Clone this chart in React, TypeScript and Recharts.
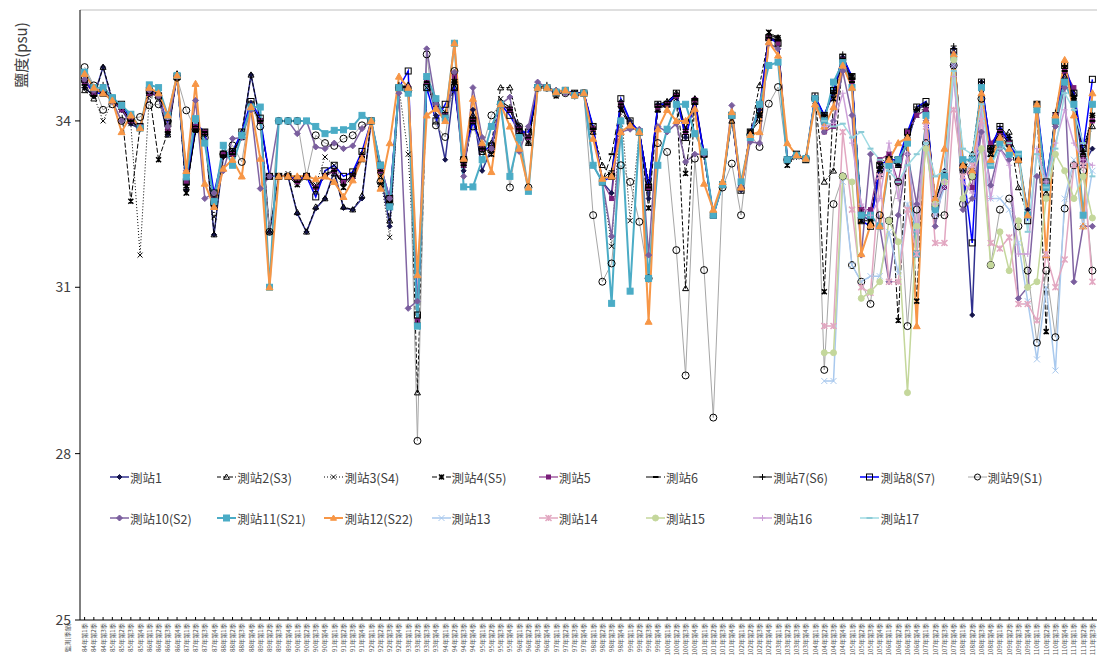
import React from 'react';
import { LineChart, Line, XAxis, YAxis, ReferenceLine, Legend } from 'recharts';

const quarterLabels = [
  '84年第1季', '84年第2季', '84年第3季',
  '85年第1季', '85年第2季', '85年第3季', '85年第4季',
  '86年第1季', '86年第2季', '86年第3季', '86年第4季',
  '87年第1季', '87年第2季', '87年第3季', '87年第4季',
  '88年第1季', '88年第2季', '88年第3季', '88年第4季',
  '89年第1季', '89年第2季', '89年第3季', '89年第4季',
  '90年第1季', '90年第2季', '90年第3季', '90年第4季',
  '91年第1季', '91年第2季', '91年第3季', '91年第4季',
  '92年第1季', '92年第2季', '92年第3季', '92年第4季',
  '93年第1季', '93年第2季', '93年第3季', '93年第4季',
  '94年第1季', '94年第2季', '94年第3季', '94年第4季',
  '95年第1季', '95年第2季', '95年第3季', '95年第4季',
  '96年第1季', '96年第2季', '96年第3季', '96年第4季',
  '97年第1季', '97年第2季', '97年第3季', '97年第4季',
  '98年第1季', '98年第2季', '98年第3季', '98年第4季',
  '99年第1季', '99年第2季', '99年第3季', '99年第4季',
  '100年第1季', '100年第2季', '100年第3季', '100年第4季',
  '101年第1季', '101年第2季', '101年第3季', '101年第4季',
  '102年第1季', '102年第2季', '102年第3季', '102年第4季',
  '103年第1季', '103年第2季', '103年第3季', '103年第4季',
  '104年第1季', '104年第2季', '104年第3季', '104年第4季',
  '105年第1季', '105年第2季', '105年第3季', '105年第4季',
  '106年第1季', '106年第2季', '106年第3季', '106年第4季',
  '107年第1季', '107年第2季', '107年第3季', '107年第4季',
  '108年第1季', '108年第2季', '108年第3季', '108年第4季',
  '109年第1季', '109年第2季', '109年第3季', '109年第4季',
  '110年第1季', '110年第2季', '110年第3季', '110年第4季',
  '111年第1季', '111年第2季', '111年第3季',
];

const yTicks = [25, 28, 31, 34];

// stations 1-12: one value per quarter
const st1 = [
  34.6, 34.45, 34.97, 34.35, 34.2, 33.95, 33.85, 34.5, 34.45, 33.75,
  34.82, 32.75, 33.85, 33.8, 31.95, 33.35, 33.45, 33.74, 34.83, 34.0,
  32.0, 33.0, 33.0, 32.33, 32.0, 32.42, 32.6, 33.1, 32.43, 32.4,
  32.6, 34.0, 33.1, 32.1, 34.6, 34.6, 30.3, 34.8, 34.1, 33.3,
  34.7, 33.1, 34.2, 33.1, 33.5, 34.3, 34.2, 33.9, 33.7, 34.6,
  34.6, 34.5, 34.55, 34.45, 34.5, 33.85, 32.9, 32.7, 34.35, 34.0,
  33.8, 32.6, 34.3, 34.3, 34.45, 33.7, 34.4, 33.4, 32.3, 32.85,
  34.1, 32.75, 33.75, 34.2, 35.5, 35.45, 33.3, 33.35, 33.3, 34.4,
  34.1, 34.5, 35.15, 34.65, 32.3, 32.2, 33.0, 33.3, 33.2, 33.6,
  34.2, 34.3, 32.5, 33.1, 35.3, 33.2, 30.5, 34.7, 33.5, 33.8,
  33.7, 33.3, 32.4, 34.2, 32.9, 34.0, 34.9, 34.4, 33.2, 33.5,
];
const st2 = [
  34.55, 34.4, 34.97, 34.4, 34.25, 34.0, 33.9, 34.5, 34.5, 33.75,
  34.85, 32.8, 33.85, 33.8, 31.95, 33.4, 33.4, 33.8, 34.83, 34.0,
  32.0, 33.0, 33.0, 32.35, 32.0, 32.45, 32.6, 33.05, 32.45, 32.4,
  32.65, 34.0, 33.1, 32.2, 34.6, 34.65, 29.1, 34.7, 34.4, 34.1,
  34.6, 33.3, 34.1, 33.5, 33.6, 34.6, 34.6, 33.9, 33.6, 34.65,
  34.6, 34.55, 34.55, 34.5, 34.5, 33.8, 33.2, 33.0, 34.3, 33.9,
  33.8, 32.9, 34.2, 34.35, 34.5, 30.98, 34.4, 33.4, 32.3, 32.9,
  34.0, 32.8, 33.8, 34.64, 35.5, 35.5, 33.3, 33.4, 33.3, 34.4,
  32.9, 33.1, 35.1, 34.8, 32.3, 32.3, 33.1, 33.3, 33.2, 33.7,
  34.2, 34.2, 32.5, 33.0, 35.2, 33.1, 33.4, 34.6, 33.4, 33.7,
  33.8, 32.8, 32.3, 34.3, 32.7, 34.1, 34.8, 34.5, 33.4, 33.9,
];
const st3 = [
  34.6, 34.45, 34.0, 34.35, 34.25, 33.95, 31.58, 34.45, 34.4, 33.8,
  34.8, 32.7, 33.9, 33.75, 32.27, 33.4, 33.45, 33.7, 34.3, 34.0,
  33.0, 33.0, 33.05, 32.9, 33.0, 32.85, 33.35, 33.2, 32.9, 33.0,
  33.4, 34.0, 33.0, 31.9, 34.6, 33.4, 30.4, 34.6, 34.3, 34.1,
  34.7, 33.2, 34.0, 33.45, 33.5, 34.4, 34.2, 33.85, 33.6, 34.6,
  34.6, 34.5, 34.55, 34.5, 34.5, 33.9, 32.9, 31.74, 34.3, 32.2,
  33.8, 32.8, 34.25, 34.3, 34.4, 33.8, 34.35, 33.4, 32.3, 32.85,
  34.1, 32.8, 33.75, 34.1, 35.6, 35.4, 33.2, 33.35, 33.3, 34.35,
  34.1, 34.5, 35.0, 34.7, 32.4, 32.3, 33.2, 33.4, 33.3, 33.7,
  34.1, 34.2, 32.6, 33.0, 35.1, 33.3, 33.1, 34.5, 33.5, 33.8,
  33.6, 33.4, 32.3, 34.2, 32.6, 34.1, 34.9, 34.3, 33.5, 34.1,
];
const st4 = [
  34.7, 34.5, 34.55, 34.4, 34.2, 32.55, 33.9, 34.5, 33.3, 33.8,
  34.8, 32.7, 33.85, 33.8, 32.5, 33.4, 33.4, 33.7, 34.25, 34.0,
  33.0, 33.0, 33.0, 32.85, 33.0, 32.75, 33.0, 33.1, 32.8, 33.0,
  33.3, 34.0, 32.85, 32.55, 34.6, 34.55, 30.4, 34.7, 34.3, 34.1,
  34.7, 33.2, 34.0, 33.5, 33.4, 34.3, 34.2, 33.8, 33.7, 34.6,
  34.6, 34.45, 34.55, 34.5, 34.5, 33.85, 32.9, 33.0, 34.2, 33.9,
  33.8, 32.43, 34.2, 34.3, 34.45, 33.05, 34.35, 33.4, 32.3, 32.85,
  34.1, 32.8, 33.8, 34.1, 35.6, 35.5, 33.2, 33.4, 33.3, 34.4,
  30.92, 34.4, 35.1, 34.8, 32.2, 32.2, 33.2, 33.3, 30.4, 33.7,
  30.75, 34.2, 32.5, 33.0, 35.2, 33.2, 33.0, 34.6, 33.4, 33.8,
  33.5, 33.3, 32.3, 34.3, 30.2, 34.1, 34.95, 34.4, 33.3, 34.1,
];
const st5 = [
  34.7, 34.5, 34.6, 34.4, 34.2, 34.0, 33.9, 34.5, 34.45, 33.85,
  34.8, 32.9, 33.9, 33.8, 32.6, 33.4, 33.4, 33.75, 34.25, 34.0,
  33.0, 33.0, 33.0, 32.9, 33.0, 32.8, 33.0, 33.1, 32.9, 33.0,
  33.35, 34.0, 33.1, 32.6, 34.6, 34.6, 30.4, 34.7, 34.3, 34.1,
  34.8, 33.2, 34.0, 33.5, 33.5, 34.3, 34.2, 33.85, 33.7, 34.6,
  34.6, 34.5, 34.55, 34.48, 34.5, 33.86, 32.9, 32.6, 34.3, 33.9,
  33.8, 32.8, 34.25, 34.3, 34.45, 33.8, 34.38, 33.4, 32.3, 32.87,
  34.1, 32.8, 33.77, 34.3, 35.5, 35.4, 33.3, 33.38, 33.32, 34.4,
  33.8, 33.9, 35.1, 34.7, 32.4, 32.4, 33.3, 33.4, 32.9, 33.8,
  34.1, 34.2, 32.5, 32.8, 35.2, 33.3, 32.8, 34.6, 33.6, 33.8,
  33.6, 33.3, 32.3, 34.25, 32.8, 34.1, 34.9, 34.6, 33.3, 34.0,
];
const st6 = [
  34.65, 34.45, 34.6, 34.37, 34.25, 34.0, 33.87, 34.5, 34.46, 33.8,
  34.82, 32.85, 33.85, 33.8, 32.6, 33.38, 33.4, 33.74, 34.25, 34.0,
  33.0, 33.02, 33.02, 32.9, 33.0, 32.8, 33.0, 33.1, 32.85, 33.0,
  33.35, 34.0, 33.1, 32.55, 34.6, 34.6, 30.3, 34.7, 34.3, 34.1,
  34.7, 33.2, 34.0, 33.5, 33.5, 34.3, 34.2, 33.85, 33.7, 34.6,
  34.6, 34.52, 34.55, 34.48, 34.52, 33.86, 32.9, 33.4, 34.3, 33.9,
  33.8, 32.8, 34.25, 34.3, 34.45, 33.8, 34.38, 33.4, 32.3, 32.87,
  34.1, 32.78, 33.77, 34.1, 35.5, 35.45, 33.3, 33.38, 33.32, 34.4,
  34.1, 34.5, 35.12, 34.7, 32.3, 32.2, 33.1, 33.3, 33.2, 33.7,
  34.2, 34.28, 32.5, 33.0, 35.2, 33.2, 33.0, 34.6, 33.5, 33.8,
  33.6, 33.3, 32.3, 34.25, 32.8, 34.1, 34.9, 34.4, 33.4, 34.0,
];
const st7 = [
  34.6, 34.45, 34.65, 34.4, 34.25, 34.0, 33.85, 34.55, 34.5, 33.8,
  34.85, 32.8, 33.8, 33.75, 32.6, 33.35, 33.45, 33.7, 34.3, 34.0,
  33.0, 33.0, 33.0, 32.95, 33.0, 32.8, 33.05, 33.1, 32.85, 33.05,
  33.4, 34.0, 33.15, 32.5, 34.65, 34.6, 30.35, 34.75, 34.35, 34.15,
  34.75, 33.2, 34.05, 33.5, 33.45, 34.35, 34.25, 33.85, 33.6, 34.6,
  34.65, 34.5, 34.55, 34.5, 34.5, 33.85, 32.95, 33.1, 34.25, 33.95,
  33.8, 32.85, 34.3, 34.35, 34.5, 33.85, 34.4, 33.35, 32.3, 32.9,
  34.05, 32.8, 33.8, 34.0, 35.55, 35.5, 33.25, 33.4, 33.3, 34.45,
  34.1, 34.55, 35.2, 34.75, 32.35, 32.25, 33.15, 33.35, 33.25, 33.75,
  34.25, 34.3, 32.55, 33.05, 35.35, 33.25, 33.1, 34.7, 33.5, 33.9,
  33.7, 33.35, 32.35, 34.3, 32.75, 34.15, 35.0, 34.45, 33.45, 34.1,
];
const st8 = [
  34.75, 34.5, 34.5, 34.4, 34.3, 34.05, 33.9, 34.55, 34.45, 33.95,
  34.8, 32.9, 33.95, 33.8, 32.7, 33.4, 33.45, 33.8, 34.35, 34.05,
  33.0, 33.0, 33.0, 32.95, 33.0, 32.63, 33.1, 33.2, 33.0, 33.08,
  33.45, 34.0, 33.2, 32.6, 34.6, 34.9, 30.5, 34.6, 34.0, 34.3,
  34.6, 33.3, 34.0, 33.45, 33.55, 34.3, 34.1, 33.8, 33.8, 34.6,
  34.6, 34.5, 34.55, 34.5, 34.5, 33.9, 32.9, 33.0, 34.4, 34.0,
  33.8, 32.8, 34.3, 34.3, 34.5, 33.7, 34.35, 33.4, 32.3, 32.85,
  34.1, 32.75, 33.8, 34.2, 35.5, 35.4, 33.3, 33.4, 33.3, 34.45,
  34.1, 34.55, 35.15, 34.8, 32.2, 32.1, 33.2, 33.3, 33.3, 33.8,
  34.25, 34.35, 32.45, 33.0, 35.25, 33.15, 31.8, 34.7, 33.5, 33.9,
  33.6, 33.3, 32.2, 34.3, 32.9, 34.0, 35.0, 34.5, 33.5, 34.75,
];
const st9 = [
  34.97, 34.64, 34.2, 34.3, 34.0, 34.05, 34.07, 34.28, 34.3, 34.0,
  34.78, 34.19, 33.85, 33.7, 32.5, 33.4, 33.56, 33.26, 34.3, 33.9,
  32.0, 34.0, 34.0, 34.0, 33.0, 33.74, 33.6, 33.55, 33.68, 33.74,
  33.92, 34.0, 32.9, 32.5, 34.6, 34.55, 28.23, 35.2, 33.92, 33.71,
  34.9, 33.3, 33.9, 33.5, 34.1, 34.3, 32.8, 33.9, 32.8, 34.6,
  34.6, 34.52, 34.5, 34.46, 34.5, 32.3, 31.1, 31.43, 33.2, 32.9,
  32.18, 31.16, 33.6, 33.44, 31.67, 29.41, 33.32, 31.31, 28.65, 32.8,
  33.23, 32.3, 33.75, 33.53, 34.31, 34.61, 33.3, 33.38, 33.32, 34.4,
  29.51, 32.5, 33.0, 31.4, 31.1, 30.7, 32.3, 32.2, 32.9, 30.3,
  32.4, 33.6, 32.3, 32.3, 35.0, 32.5, 33.0, 34.4, 31.4, 32.4,
  32.6, 32.1, 31.3, 30.0, 31.3, 30.1, 32.42, 33.2, 33.1, 31.3,
];
const st10 = [
  34.75, 34.55, 34.55, 34.35, 34.0, 34.1, 33.87, 34.55, 34.45, 33.9,
  34.8, 33.1, 34.37, 32.6, 32.7, 33.1, 33.68, 33.7, 34.2, 32.78,
  33.0, 34.0, 34.0, 33.77, 34.0, 33.53, 33.5, 33.6, 33.5, 33.55,
  33.86, 34.0, 33.2, 32.6, 34.5, 30.62, 30.75, 35.3, 34.3, 34.0,
  34.88, 33.0, 34.6, 33.7, 33.5, 34.3, 34.43, 33.45, 33.9, 34.7,
  34.6, 34.55, 34.5, 34.46, 34.5, 33.2, 32.9, 31.92, 33.8, 33.85,
  33.85, 31.58, 33.9, 33.8, 33.95, 33.26, 33.4, 33.4, 32.3, 32.85,
  34.28, 32.8, 33.62, 33.6, 35.4, 35.3, 33.3, 33.38, 33.32, 34.4,
  33.8, 34.0, 34.9, 34.1, 31.58, 33.4, 32.1, 31.1, 32.3, 33.4,
  32.5, 34.0, 32.1, 33.0, 35.0, 32.4, 32.6, 33.8, 32.84, 33.5,
  33.3, 30.8, 31.0, 33.0, 32.9, 33.9, 34.6, 31.1, 32.1, 32.1,
];
const st11 = [
  34.88, 34.6, 34.6, 34.42, 34.28, 34.12, 33.87, 34.65, 34.6, 34.1,
  34.82, 32.99, 34.04, 33.6, 32.55, 33.56, 33.2, 33.74, 34.25, 34.25,
  31.0, 34.0, 34.0, 34.0, 34.0, 33.9, 33.77, 33.83, 33.84, 33.9,
  34.1, 34.0, 33.2, 32.45, 34.6, 34.5, 30.3, 34.8, 34.4, 34.05,
  35.4, 32.81, 32.81, 33.3, 33.9, 34.3, 33.0, 33.7, 32.73, 34.6,
  34.6, 34.52, 34.55, 34.46, 34.5, 33.2, 32.9, 30.71, 34.0, 30.93,
  33.8, 31.16, 33.2, 33.85, 34.3, 34.3, 33.77, 33.44, 32.3, 32.85,
  34.1, 32.9, 33.7, 34.3, 35.0, 35.06, 33.3, 33.38, 33.32, 34.4,
  34.0, 34.7, 35.05, 34.6, 32.3, 32.3, 32.1, 33.2, 33.3, 33.6,
  31.6, 34.1, 32.4, 33.0, 35.15, 33.3, 33.3, 34.6, 33.2, 33.6,
  33.4, 33.4, 32.3, 34.2, 32.8, 34.0, 34.7, 34.3, 32.3, 34.3,
];
const st12 = [
  34.85, 34.6, 34.5, 34.37, 33.8, 34.1, 33.87, 34.6, 34.5, 34.1,
  34.82, 33.1, 34.67, 32.87, 32.45, 33.14, 33.3, 33.0, 34.25, 33.32,
  31.0, 33.0, 33.0, 33.0, 33.0, 32.95, 33.0, 32.9, 32.63, 32.93,
  33.32, 34.0, 32.78, 33.6, 34.8, 34.6, 31.22, 34.1, 34.22, 34.0,
  35.4, 33.32, 34.4, 33.6, 33.08, 34.3, 33.9, 33.5, 32.8, 34.6,
  34.6, 34.52, 34.55, 34.46, 34.5, 33.68, 32.96, 33.0, 33.8, 33.92,
  33.8, 30.38, 33.85, 34.2, 34.0, 34.0, 34.22, 32.87, 32.4, 32.9,
  34.16, 32.8, 33.75, 33.8, 35.42, 35.18, 33.6, 33.38, 33.32, 34.3,
  33.9, 34.25, 35.0, 34.6, 31.6, 32.12, 32.1, 33.3, 33.6, 33.7,
  30.3, 34.0, 32.6, 33.5, 35.2, 33.2, 33.1, 34.5, 33.3, 33.7,
  33.5, 33.3, 32.3, 34.3, 31.58, 34.1, 35.1, 34.1, 32.1, 34.5,
];

// stations 13-17 were only sampled from 104年第2季 on
const lateStart = quarterLabels.indexOf('104年第2季');
const st13 = [
  29.31, 29.31, 32.9, 31.4, 31.1, 31.2, 31.2, 32.0, 31.25, 32.5,
  32.1, 33.6, 32.3, 32.8, 35.0, 33.0, 33.3, 33.5, 32.6, 32.6,
  32.4, 31.8, 30.75, 29.7, 31.0, 29.5, 32.6, 33.3, 32.1, 33.1,
];
const st14 = [
  30.3, 30.3, 33.8, 32.4, 31.0, 30.9, 33.0, 31.1, 31.1, 32.4,
  31.6, 33.9, 31.8, 31.8, 34.2, 33.0, 33.2, 34.0, 31.8, 31.7,
  31.9, 30.7, 30.7, 30.4, 31.6, 31.0, 31.5, 33.2, 33.2, 31.1,
];
const st15 = [
  29.82, 29.82, 33.0, 32.9, 30.8, 30.92, 31.1, 32.2, 31.82, 29.1,
  32.1, 33.5, 32.5, 32.9, 35.1, 32.6, 33.0, 33.5, 31.4, 32.0,
  31.3, 32.2, 31.0, 31.1, 32.6, 33.4, 33.1, 32.6, 33.0, 32.25,
];
const st16 = [
  33.9, 33.95, 34.5, 33.6, 32.5, 32.3, 32.6, 33.6, 32.6, 33.4,
  32.0, 33.9, 32.5, 32.9, 34.8, 32.9, 32.7, 34.2, 32.6, 33.5,
  33.2, 31.6, 31.6, 33.5, 32.9, 33.6, 34.2, 33.6, 33.3, 33.2,
];
const st17 = [
  34.0, 33.9, 33.95, 33.7, 33.8, 33.5, 33.3, 33.1, 32.9, 33.2,
  33.4, 33.6, 33.0, 33.1, 34.9, 33.5, 33.4, 34.3, 33.2, 33.5,
  33.6, 33.4, 32.0, 33.4, 32.8, 33.5, 34.5, 34.2, 33.6, 33.0,
];

const late = (arr: number[], i: number) => (i >= lateStart ? arr[i - lateStart] : null);

const rows = quarterLabels.map((q, i) => ({
  q,
  s1: st1[i], s2: st2[i], s3: st3[i], s4: st4[i], s5: st5[i], s6: st6[i],
  s7: st7[i], s8: st8[i], s9: st9[i], s10: st10[i], s11: st11[i], s12: st12[i],
  s13: late(st13, i), s14: late(st14, i), s15: late(st15, i), s16: late(st16, i), s17: late(st17, i),
}));

type Shape = 'diamond' | 'triangle' | 'x' | 'star' | 'square' | 'dash' | 'plus' | 'circle';

interface Station {
  key: string;
  name: string;
  color: string;
  width: number;
  dash?: string;
  mark: Shape;
  mStroke: string;
  mFill: string;
  r: number;
}

const STATIONS: Station[] = [
  { key: 's1', name: '測站1', color: '#30308f', width: 1.5, mark: 'diamond', mStroke: '#14144a', mFill: '#14144a', r: 2.5 },
  { key: 's2', name: '測站2(S3)', color: '#000', width: 1, dash: '4 2', mark: 'triangle', mStroke: '#000', mFill: 'none', r: 3 },
  { key: 's3', name: '測站3(S4)', color: '#000', width: 1, dash: '1 2', mark: 'x', mStroke: '#000', mFill: 'none', r: 2.5 },
  { key: 's4', name: '測站4(S5)', color: '#000', width: 1, dash: '5 2', mark: 'star', mStroke: '#000', mFill: 'none', r: 2.5 },
  { key: 's5', name: '測站5', color: '#8e3a8e', width: 1.2, mark: 'square', mStroke: '#7a1f7a', mFill: '#7a1f7a', r: 2 },
  { key: 's6', name: '測站6', color: '#000', width: 1, dash: '6 3', mark: 'dash', mStroke: '#000', mFill: 'none', r: 3 },
  { key: 's7', name: '測站7(S6)', color: '#000', width: 1, mark: 'plus', mStroke: '#000', mFill: 'none', r: 3 },
  { key: 's8', name: '測站8(S7)', color: '#0000ff', width: 1.5, mark: 'square', mStroke: '#000', mFill: 'none', r: 3 },
  { key: 's9', name: '測站9(S1)', color: '#a6a6a6', width: 1, mark: 'circle', mStroke: '#000', mFill: 'none', r: 3.5 },
  { key: 's10', name: '測站10(S2)', color: '#8064a2', width: 1.5, mark: 'diamond', mStroke: '#7a5e9e', mFill: '#7a5e9e', r: 3 },
  { key: 's11', name: '測站11(S21)', color: '#4bacc6', width: 2, mark: 'square', mStroke: '#4bacc6', mFill: '#4bacc6', r: 3 },
  { key: 's12', name: '測站12(S22)', color: '#f79646', width: 2, mark: 'triangle', mStroke: '#f79646', mFill: '#f79646', r: 3.5 },
  { key: 's13', name: '測站13', color: '#a9c9ee', width: 1.5, mark: 'x', mStroke: '#a9c9ee', mFill: 'none', r: 3 },
  { key: 's14', name: '測站14', color: '#e2a7c1', width: 1.5, mark: 'star', mStroke: '#e2a7c1', mFill: 'none', r: 3 },
  { key: 's15', name: '測站15', color: '#c4d79b', width: 1.5, mark: 'circle', mStroke: '#c4d79b', mFill: '#c4d79b', r: 3 },
  { key: 's16', name: '測站16', color: '#cda0d8', width: 1.5, mark: 'plus', mStroke: '#cda0d8', mFill: 'none', r: 3 },
  { key: 's17', name: '測站17', color: '#9fdbe3', width: 1.5, mark: 'dash', mStroke: '#8ccbd6', mFill: 'none', r: 3 },
];

const Mark = ({ shape, cx, cy, r, stroke, fill }: { shape: Shape; cx: number; cy: number; r: number; stroke: string; fill: string }) => {
  switch (shape) {
    case 'diamond':
      return <polygon points={`${cx},${cy - r} ${cx + r},${cy} ${cx},${cy + r} ${cx - r},${cy}`} fill={fill} stroke={stroke} strokeWidth={1} />;
    case 'triangle':
      return <polygon points={`${cx},${cy - r} ${cx + r},${cy + r * 0.75} ${cx - r},${cy + r * 0.75}`} fill={fill} stroke={stroke} strokeWidth={1} />;
    case 'square':
      return <rect x={cx - r} y={cy - r} width={r * 2} height={r * 2} fill={fill} stroke={stroke} strokeWidth={1} />;
    case 'circle':
      return <circle cx={cx} cy={cy} r={r} fill={fill} stroke={stroke} strokeWidth={1} />;
    case 'x':
      return <path d={`M${cx - r},${cy - r}L${cx + r},${cy + r}M${cx - r},${cy + r}L${cx + r},${cy - r}`} stroke={stroke} strokeWidth={1} fill="none" />;
    case 'star':
      return <path d={`M${cx - r},${cy - r}L${cx + r},${cy + r}M${cx - r},${cy + r}L${cx + r},${cy - r}M${cx},${cy - r}L${cx},${cy + r}`} stroke={stroke} strokeWidth={1.5} fill="none" />;
    case 'plus':
      return <path d={`M${cx - r},${cy}L${cx + r},${cy}M${cx},${cy - r}L${cx},${cy + r}`} stroke={stroke} strokeWidth={1} fill="none" />;
    case 'dash':
    default:
      return <path d={`M${cx - r},${cy}L${cx + r},${cy}`} stroke={stroke} strokeWidth={2} fill="none" />;
  }
};

const dotFor = (st: Station) => (p: any) => {
  const { cx, cy, index, value } = p;
  if (cx == null || cy == null || value == null) return <g key={`${st.key}-${index}`} />;
  return (
    <g key={`${st.key}-${index}`}>
      <Mark shape={st.mark} cx={cx} cy={cy} r={st.r} stroke={st.mStroke} fill={st.mFill} />
    </g>
  );
};

const QuarterTick = (props: any) => {
  const { x, y, payload } = props;
  return (
    <g>
      <line x1={x} y1={y} x2={x} y2={y - 3} stroke="#000" />
      <text x={x} y={y + 3} transform={`rotate(-90 ${x} ${y + 3})`} textAnchor="end" dominantBaseline="central" fontSize={6.2} fill="#555">
        {payload.value}
      </text>
    </g>
  );
};

const XTitle = (props: any) => {
  const { viewBox } = props;
  const x = viewBox.x - 13;
  const y = viewBox.y + 3;
  return (
    <text x={x} y={y} transform={`rotate(-90 ${x} ${y})`} textAnchor="end" dominantBaseline="central" fontSize={6.2} fill="#555">
      監測(季節)
    </text>
  );
};

const YTitle = (props: any) => {
  const { viewBox } = props;
  const x = viewBox.x + 20;
  const y = viewBox.y + 45;
  return (
    <text x={x} y={y} transform={`rotate(-90 ${x} ${y})`} textAnchor="middle" dominantBaseline="central" fontSize={15} fill="#404040">
      鹽度(psu)
    </text>
  );
};

const LegendGrid = () => (
  <div style={{ position: 'relative', width: 1097, height: 655 }}>
    {STATIONS.map((st, i) => {
      const row = i < 9 ? 0 : 1;
      const col = i < 9 ? i : i - 9;
      return (
        <div
          key={st.key}
          style={{
            position: 'absolute',
            left: 110 + col * 107.2,
            top: (row === 0 ? 477 : 518) - 9,
            height: 18,
            display: 'flex',
            alignItems: 'center',
            fontSize: 12.5,
            color: '#404040',
            whiteSpace: 'nowrap',
          }}
        >
          <svg width={19} height={12} style={{ marginRight: 1 }}>
            <line x1={0} y1={6} x2={19} y2={6} stroke={st.color} strokeWidth={st.width} strokeDasharray={st.dash} />
            <Mark shape={st.mark} cx={9.5} cy={6} r={Math.min(st.r, 3)} stroke={st.mStroke} fill={st.mFill} />
          </svg>
          <span>{st.name}</span>
        </div>
      );
    })}
  </div>
);

export default function App() {
  return (
    <div style={{ width: 1097, height: 655, position: 'relative', fontFamily: "'Noto Sans CJK TC', 'Noto Sans', sans-serif", background: '#fff' }}>
      <style>{'body{margin:0}'}</style>
      <LineChart width={1097} height={655} data={rows} margin={{ top: 10, right: 0, bottom: 0, left: 0 }}>
        <XAxis
          dataKey="q"
          interval={0}
          height={35}
          tickSize={0}
          tickMargin={0}
          tickLine={false}
          axisLine={{ stroke: '#000' }}
          padding={{ left: 4.6, right: 4.6 }}
          tick={(p: any) => <QuarterTick {...p} />}
          label={<XTitle />}
        />
        <YAxis
          type="number"
          domain={[25, 36]}
          ticks={yTicks}
          width={80}
          tickSize={5}
          tickMargin={4}
          tickLine={{ stroke: '#000' }}
          axisLine={{ stroke: '#000' }}
          tick={{ fontSize: 14, fill: '#404040' }}
          label={<YTitle />}
        />
        <ReferenceLine y={36} stroke="#bfbfbf" />
        {STATIONS.map((st) => (
          <Line
            key={st.key}
            dataKey={st.key}
            name={st.name}
            type="linear"
            stroke={st.color}
            strokeWidth={st.width}
            strokeDasharray={st.dash}
            dot={dotFor(st)}
            activeDot={false}
            connectNulls={false}
            isAnimationActive={false}
          />
        ))}
        <Legend
          layout="horizontal"
          verticalAlign="middle"
          align="center"
          content={() => <LegendGrid />}
          wrapperStyle={{ position: 'absolute', left: 0, top: 0, width: 1097, height: 655, pointerEvents: 'none' }}
        />
      </LineChart>
    </div>
  );
}
